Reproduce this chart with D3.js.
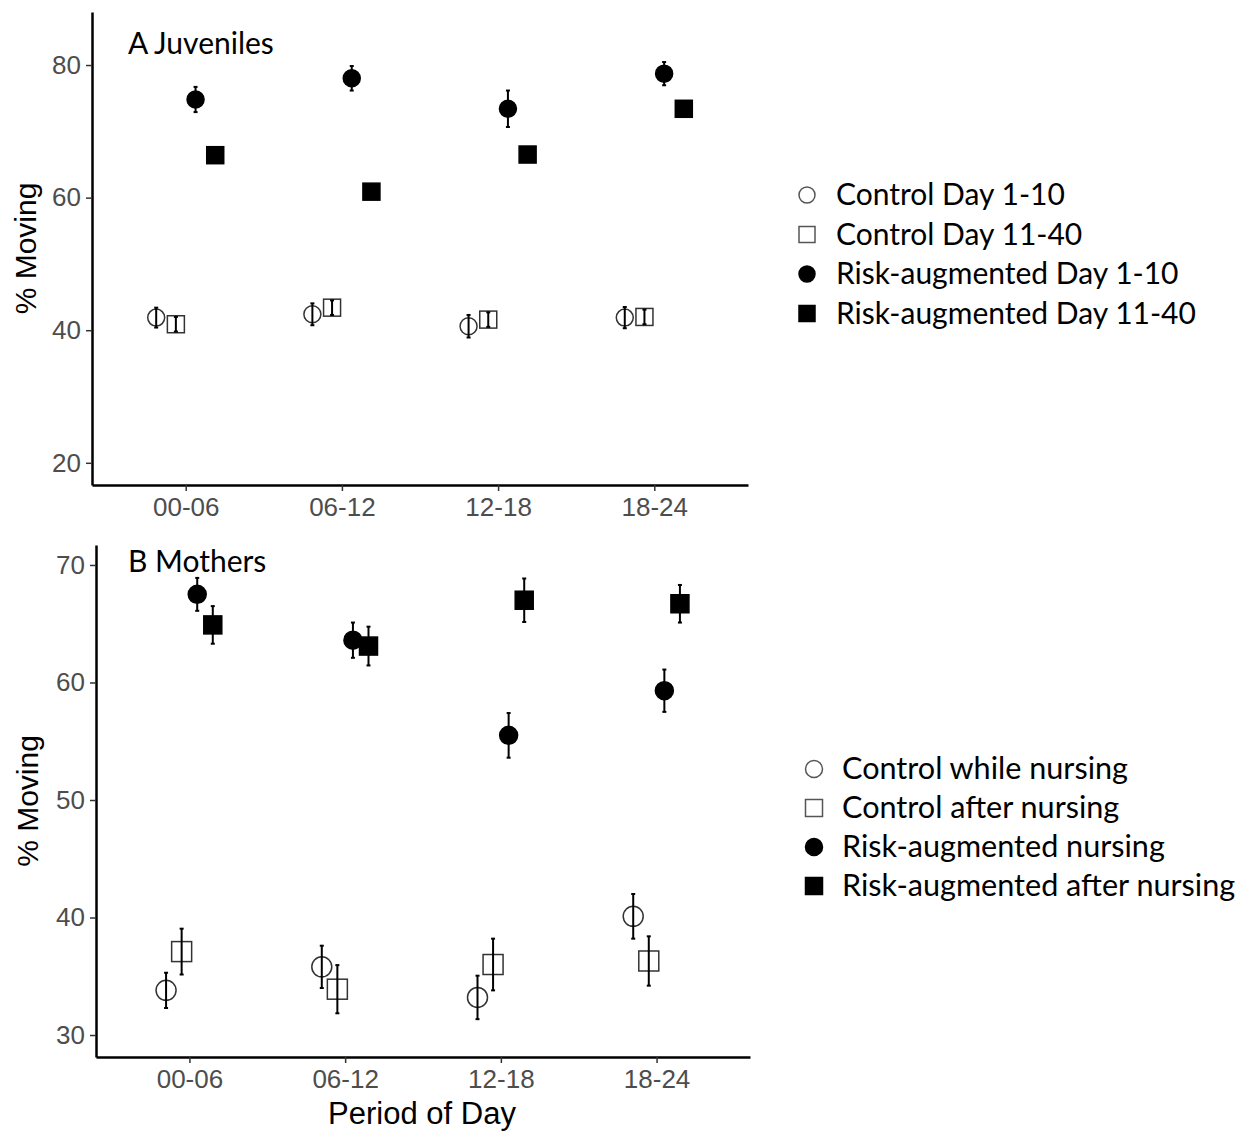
<!DOCTYPE html>
<html>
<head>
<meta charset="utf-8">
<script src="https://cdn.jsdelivr.net/npm/d3@7"></script>
<style>
  body { margin: 0; background: #fff; }
  svg { display: block; }
  .axis text { font-family: "Liberation Sans", Arial, sans-serif; fill: #4d4d4d; }
  .axis path { stroke: #000; stroke-width: 2.5; }
  .axis line { stroke: #333; stroke-width: 1.5; }
  .title { font-family: "Liberation Sans", Arial, sans-serif; fill: #000; }
  .label, .legend text { font-family: Lato, "Open Sans", sans-serif; fill: #000; }
</style>
</head>
<body>
<svg id="chart" width="1242" height="1133"></svg>
<script>
const periods = ['00-06', '06-12', '12-18', '18-24']

// A Juveniles
const juvLabels = ['Control Day 1-10', 'Control Day 11-40', 'Risk-augmented Day 1-10', 'Risk-augmented Day 11-40']
const juvControlEarly = [41.9, 42.4, 40.6, 41.9]
const juvControlEarlySe = [1.5, 1.65, 1.7, 1.6]
const juvControlLate = [40.9, 43.4, 41.6, 42.0]
const juvControlLateSe = [1.1, 1.1, 1.1, 1.1]
const juvRiskEarly = [74.8, 78.0, 73.4, 78.7]
const juvRiskEarlySe = [1.9, 1.85, 2.75, 1.75]
const juvRiskLate = [66.4, 60.9, 66.5, 73.4]
const juvRiskLateSe = [0.9, 0.9, 0.9, 0.9]
const juvTicks = [20, 40, 60, 80]

// B Mothers
const momLabels = ['Control while nursing', 'Control after nursing', 'Risk-augmented nursing', 'Risk-augmented after nursing']
const momControlNursing = [33.8, 35.8, 33.2, 40.1]
const momControlNursingSe = [1.5, 1.8, 1.85, 1.9]
const momControlAfter = [37.1, 33.9, 36.0, 36.3]
const momControlAfterSe = [1.95, 2.05, 2.2, 2.1]
const momRiskNursing = [67.5, 63.6, 55.5, 59.3]
const momRiskNursingSe = [1.4, 1.5, 1.9, 1.8]
const momRiskAfter = [64.9, 63.1, 67.0, 66.7]
const momRiskAfterSe = [1.6, 1.65, 1.85, 1.6]
const momTicks = [30, 40, 50, 60, 70]

// shape/fill per group, same order in both panels
const shapes = [
  { shape: 'circle', filled: false },
  { shape: 'square', filled: false },
  { shape: 'circle', filled: true },
  { shape: 'square', filled: true },
]

function makeSeries(labels, means, ses) {
  return labels.map((label, i) => ({
    label,
    ...shapes[i],
    points: periods.map((p, j) => ({ period: p, mean: means[i][j], se: ses[i][j] })),
  }))
}

const svg = d3.select('#chart')

function drawPanel(cfg) {
  const { left, top, width, height, yDomain, ticks, series, dodge, sizes } = cfg
  const g = svg.append('g').attr('transform', `translate(${left}, ${top})`)

  const x = d3.scalePoint().domain(periods).range([0, width]).padding(0.6)
  const y = d3.scaleLinear().domain(yDomain).range([height, 0])
  const off = d3.scalePoint()
    .domain(series.map((s) => s.label))
    .range([-1.5 * dodge * x.step(), 1.5 * dodge * x.step()])

  g.append('g')
    .attr('class', 'axis axis--x')
    .attr('transform', `translate(0, ${height})`)
    .call(d3.axisBottom(x).tickSize(6).tickSizeOuter(0).tickPadding(7))
    .selectAll('text')
    .attr('font-size', 26)

  g.append('g')
    .attr('class', 'axis axis--y')
    .call(d3.axisLeft(y).tickValues(ticks).tickSize(6).tickSizeOuter(0).tickPadding(5))
    .selectAll('text')
    .attr('font-size', 26)

  g.append('text')
    .attr('class', 'title')
    .attr('transform', `translate(${cfg.yTitleX - left}, ${height / 2}) rotate(-90)`)
    .attr('text-anchor', 'middle')
    .attr('font-size', 30)
    .text('% Moving')

  g.append('text')
    .attr('class', 'label')
    .attr('x', cfg.labelX - left)
    .attr('y', cfg.labelY - top)
    .attr('font-size', 30)
    .text(cfg.label)

  const groups = g.selectAll('.series')
    .data(series)
    .enter()
    .append('g')
    .attr('class', 'series')

  const px = (s, d) => x(d.period) + off(s.label)

  groups.each(function (s) {
    const sg = d3.select(this)
    const sz = sizes[s.shape + (s.filled ? 'Filled' : 'Open')]
    const fill = s.filled ? '#000' : '#fff'
    const stroke = s.filled ? '#000' : '#333'
    if (s.shape === 'circle') {
      sg.selectAll('circle')
        .data(s.points)
        .enter()
        .append('circle')
        .attr('cx', (d) => px(s, d))
        .attr('cy', (d) => y(d.mean))
        .attr('r', sz / 2)
        .attr('fill', fill)
        .attr('stroke', stroke)
        .attr('stroke-width', 1.5)
    } else {
      sg.selectAll('rect')
        .data(s.points)
        .enter()
        .append('rect')
        .attr('x', (d) => px(s, d) - sz / 2)
        .attr('y', (d) => y(d.mean) - sz / 2)
        .attr('width', sz)
        .attr('height', sz)
        .attr('fill', fill)
        .attr('stroke', stroke)
        .attr('stroke-width', 1.5)
    }
    // error bars on top
    const bars = sg.selectAll('.err')
      .data(s.points)
      .enter()
      .append('g')
      .attr('class', 'err')
      .attr('stroke', '#000')
      .attr('stroke-width', 2)
    bars.append('line')
      .attr('x1', (d) => px(s, d)).attr('x2', (d) => px(s, d))
      .attr('y1', (d) => y(d.mean - d.se)).attr('y2', (d) => y(d.mean + d.se))
    bars.append('line')
      .attr('x1', (d) => px(s, d) - 2).attr('x2', (d) => px(s, d) + 2)
      .attr('y1', (d) => y(d.mean - d.se)).attr('y2', (d) => y(d.mean - d.se))
    bars.append('line')
      .attr('x1', (d) => px(s, d) - 2).attr('x2', (d) => px(s, d) + 2)
      .attr('y1', (d) => y(d.mean + d.se)).attr('y2', (d) => y(d.mean + d.se))
  })

  // legend
  const leg = svg.append('g')
    .attr('class', 'legend')
    .attr('transform', `translate(${cfg.legend.x}, ${cfg.legend.y})`)
  const items = leg.selectAll('g')
    .data(series)
    .enter()
    .append('g')
    .attr('transform', (d, i) => `translate(0, ${i * cfg.legend.step})`)
  items.each(function (s) {
    const it = d3.select(this)
    const r = cfg.legend.size
    if (s.shape === 'circle') {
      it.append('circle').attr('cx', 0).attr('cy', -10).attr('r', r / 2)
    } else {
      it.append('rect').attr('x', -r / 2).attr('y', -10 - r / 2).attr('width', r).attr('height', r)
    }
    it.select(s.shape === 'circle' ? 'circle' : 'rect')
      .attr('fill', s.filled ? '#000' : '#fff')
      .attr('stroke', s.filled ? '#000' : '#555')
      .attr('stroke-width', 1.5)
    it.append('text')
      .attr('x', cfg.legend.textDx)
      .attr('y', 0)
      .attr('font-size', cfg.legend.fontSize)
      .text(s.label)
  })
}

drawPanel({
  left: 92, top: 12, width: 656, height: 473,
  yDomain: [16.65, 88.0], ticks: juvTicks,
  label: 'A Juveniles', labelX: 128, labelY: 54, yTitleX: 36,
  dodge: 0.126,
  sizes: { circleOpen: 17, squareOpen: 17, circleFilled: 17, squareFilled: 17 },
  series: makeSeries(juvLabels,
    [juvControlEarly, juvControlLate, juvRiskEarly, juvRiskLate],
    [juvControlEarlySe, juvControlLateSe, juvRiskEarlySe, juvRiskLateSe]),
  legend: { x: 807, y: 205, step: 39.5, size: 16, textDx: 29, fontSize: 30 },
})

drawPanel({
  left: 96, top: 545, width: 654, height: 512,
  yDomain: [28.13, 71.7], ticks: momTicks,
  label: 'B Mothers', labelX: 128, labelY: 572, yTitleX: 38,
  dodge: 0.1,
  sizes: { circleOpen: 20, squareOpen: 20, circleFilled: 18, squareFilled: 18 },
  series: makeSeries(momLabels,
    [momControlNursing, momControlAfter, momRiskNursing, momRiskAfter],
    [momControlNursingSe, momControlAfterSe, momRiskNursingSe, momRiskAfterSe]),
  legend: { x: 814, y: 779, step: 39, size: 17, textDx: 28, fontSize: 30.6 },
})

svg.append('text')
  .attr('class', 'title')
  .attr('x', 422)
  .attr('y', 1124)
  .attr('text-anchor', 'middle')
  .attr('font-size', 31)
  .text('Period of Day')
</script>
</body>
</html>
